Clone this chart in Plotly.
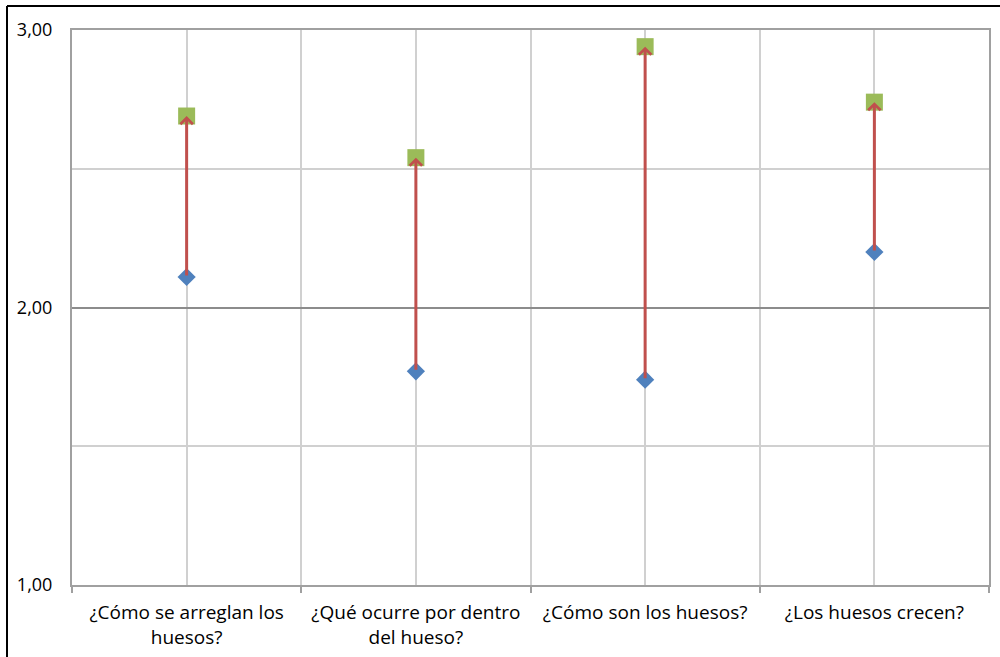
import plotly.graph_objects as go

categories = [
    "¿Cómo se arreglan los<br>huesos?",
    "¿Qué ocurre por dentro<br>del hueso?",
    "¿Cómo son los huesos?",
    "¿Los huesos crecen?",
]
pre_values = [2.11, 1.77, 1.74, 2.20]
post_values = [2.69, 2.54, 2.94, 2.74]
y_ticks = [1, 2, 3]

xs = list(range(len(categories)))

fig = go.Figure()
fig.add_trace(go.Scatter(
    x=xs, y=pre_values, mode="markers",
    marker=dict(symbol="diamond", size=14, color="#4F81BD"),
    showlegend=False, cliponaxis=False,
))
fig.add_trace(go.Scatter(
    x=xs, y=post_values, mode="markers",
    marker=dict(symbol="square", size=17, color="#9BBB59"),
    showlegend=False, cliponaxis=False,
))

for x, a, b in zip(xs, pre_values, post_values):
    fig.add_annotation(
        x=x, y=b, ax=x, ay=a, xref="x", yref="y", axref="x", ayref="y",
        showarrow=True, arrowhead=4, arrowsize=0.8, arrowwidth=3,
        arrowcolor="#C0504D", standoff=0, startstandoff=0, text="",
    )

L, R, T, B = 72, 11, 30, 72
W, H = 1000, 657
pw, ph = W - L - R, H - T - B
bx = (7 - L) / pw
by = 1 + (T - 6) / ph
fig.add_shape(type="line", xref="paper", yref="paper", x0=bx, x1=bx, y0=by, y1=-0.3,
              line=dict(color="black", width=2))
fig.add_shape(type="line", xref="paper", yref="paper", x0=bx, x1=1.1, y0=by, y1=by,
              line=dict(color="black", width=2))

fig.update_layout(
    width=W, height=H,
    margin=dict(l=L, r=R, t=T, b=B, autoexpand=False),
    paper_bgcolor="white", plot_bgcolor="white",
    separators=",.",
    font=dict(family="Open Sans, sans-serif", size=19, color="#000000"),
    xaxis=dict(
        range=[-0.5, len(categories) - 0.5], automargin=False,
        tickmode="array", tickvals=xs, ticktext=categories,
        ticks="", showgrid=True, gridcolor="#D0D0D0", gridwidth=1.5,
        showline=True, linecolor="#A0A0A0", linewidth=2, mirror=True,
        zeroline=False, ticklabelstandoff=9,
        minor=dict(tickmode="array", tickvals=[i - 0.5 for i in range(len(categories) + 1)],
                   ticks="outside", ticklen=6, tickcolor="#A0A0A0", tickwidth=1.5,
                   showgrid=True, gridcolor="#D0D0D0", gridwidth=1.5),
    ),
    yaxis=dict(
        range=[1, 3], tickmode="array", tickvals=y_ticks, tickformat=".2f",
        automargin=False, tickfont=dict(size=18),
        showgrid=True, gridcolor="#8C8C8C", gridwidth=1.5,
        showline=True, linecolor="#A0A0A0", linewidth=2, mirror=True,
        zeroline=False, ticks="", ticklabelstandoff=14,
        minor=dict(dtick=0.5, tick0=1, showgrid=True, gridcolor="#D0D0D0", gridwidth=1.5),
    ),
)

fig.write_html("out.html", config={"displayModeBar": False},
               post_script="document.body.style.margin='0';")
